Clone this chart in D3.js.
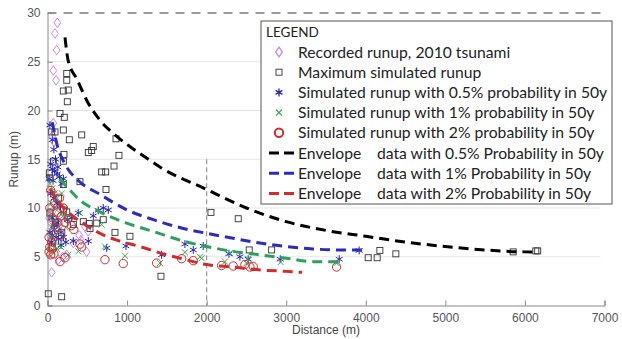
<!DOCTYPE html>
<html>
<head>
<meta charset="utf-8">
<script src="https://cdn.jsdelivr.net/npm/d3@7"></script>
<style>
  html, body { margin: 0; padding: 0; background: #fff; }
  svg { display: block; }
</style>
</head>
<body>
<div id="chart"></div>
<script>
// values: [distance (m), runup (m)]
const recorded = [[124,29.0],[94,27.9],[115,26.2],[73,24.1],[107,23.1],[73,18.7],[60,17.4],[80,16.8],
  [53,3.4],[136,4.7],[241,5.2],[190,5.0],[325,6.4],[492,5.5],[420,6.7],[20,9.0],[40,8.5],[60,9.6],
  [90,8.8],[110,7.8],[30,7.2],[70,6.5],[150,8.2],[200,9.5],[400,7.2],[470,8.1],[510,7.6],[120,10.3],[80,11.5]];

const maxSim = [[10,1.2],[178,0.9],[23,13.6],[31,13.1],[53,17.8],[94,17.8],[157,19.7],[211,19.3],[199,18.0],
  [274,17.0],[242,23.8],[242,23.1],[261,22.1],[199,22.0],[249,20.9],[430,17.5],[513,15.7],[575,16.3],
  [555,15.9],[861,17.1],[898,15.4],[836,14.3],[681,13.7],[731,13.7],[199,14.8],[207,15.5],[73,14.8],
  [408,12.7],[735,11.9],[199,12.4],[199,9.8],[241,9.6],[450,8.6],[525,8.4],[618,8.45],[701,8.8],
  [325,8.3],[534,7.9],[848,7.5],[1036,7.1],[1426,3.0],[2054,9.55],[2397,8.9],[2535,5.7],[2817,5.7],
  [4030,4.9],[4143,4.9],[4177,5.65],[4378,5.3],[5852,5.5],[6137,5.6],[6160,5.6],
  [30,9.5],[100,8.5],[140,11.0],[60,6.0],[180,7.5]];

const sim05 = [[30,18.5],[60,17.0],[80,16.0],[40,14.5],[60,14.0],[90,13.8],[120,13.5],[150,13.2],[20,13.0],
  [70,12.8],[180,12.5],[100,15.0],[130,14.2],[200,13.0],[40,11.5],[80,11.0],[120,10.5],[160,10.2],[60,9.0],
  [30,7.5],[60,7.2],[90,7.8],[110,7.0],[140,6.8],[170,7.5],[200,7.0],[230,6.5],[50,6.5],[80,8.2],[120,8.5],
  [170,6.2],[250,8.8],[300,9.0],[387,9.5],[575,9.2],[638,9.75],[701,10.0],[764,9.8],[325,6.6],[513,6.6],
  [744,5.9],[986,6.1],[1434,5.2],[1727,6.3],[1832,5.7],[1957,6.1],[2280,5.3],[2418,5.0],[2522,4.75],
  [2925,4.75],[3666,4.75],[3917,5.65]];

const sim1 = [[30,12.5],[60,12.0],[90,11.5],[120,11.0],[50,10.5],[80,10.0],[150,9.5],[30,9.0],[100,8.5],
  [60,8.0],[140,7.5],[40,7.0],[90,6.5],[170,6.0],[60,5.5],[120,5.8],[200,9.2],[230,8.0],[180,11.5],[250,9.0],
  [408,9.5],[681,8.3],[387,5.55],[261,5.2],[722,6.05],[974,5.1],[1413,4.35],[1727,5.45],[1916,5.0],
  [1937,4.85],[2230,4.5],[2293,5.4],[2500,4.35],[2520,4.8],[2930,4.45],[3633,4.35]];

const sim2 = [[20,5.5],[40,5.2],[60,5.8],[80,5.3],[30,6.0],[50,6.5],[20,7.0],[100,8.0],[130,8.5],[60,9.0],
  [30,10.0],[90,10.5],[150,11.0],[40,11.8],[120,9.5],[180,9.2],[220,8.5],[260,8.9],[300,8.2],[330,7.8],
  [200,10.0],[160,7.2],[157,4.5],[220,4.9],[408,6.3],[430,6.0],[722,4.7],[952,4.3],[1372,4.35],[1686,4.8],
  [1832,4.6],[2188,4.1],[2334,4.05],[2481,4.2],[2544,3.95],[2585,4.0],[3633,3.95]];

const env05 = [[220,27.5],[258,25.2],[371,23.2],[509,20.8],[660,19.0],[848,17.5],[1036,16.3],[1250,15.1],
  [1413,14.2],[2000,11.9],[2500,10.0],[3000,8.6],[3500,7.7],[4000,7.1],[4500,6.5],[5000,6.05],[5500,5.7],
  [6000,5.5],[6150,5.5]];
const env1 = [[60,18.8],[130,16.2],[220,14.5],[390,12.8],[660,11.4],[1000,9.8],[1330,8.8],[1660,8.0],
  [2000,7.4],[2330,6.9],[2670,6.4],[3000,6.05],[3330,5.8],[3700,5.7],[3950,5.7]];
const env1pct = [[150,13.0],[240,12.2],[408,10.8],[660,9.6],[995,8.45],[1325,7.6],[1665,6.7],[2000,6.05],
  [2330,5.55],[2670,5.2],[3000,4.85],[3335,4.5],[3700,4.5]];
const env2 = [[30,12.0],[150,10.5],[300,9.3],[450,8.4],[660,7.4],[870,6.7],[1160,6.05],[1410,5.4],
  [1665,4.85],[2000,4.2],[2330,3.95],[2670,3.65],[3000,3.5],[3200,3.4]];

const xTicks = [0,1000,2000,3000,4000,5000,6000,7000];
const yTicks = [0,5,10,15,20,25,30];

const legendItems = [
  { label: 'Recorded runup, 2010 tsunami', kind: 'diamond' },
  { label: 'Maximum simulated runup', kind: 'square' },
  { label: 'Simulated runup with 0.5% probability in 50y', kind: 'asterisk' },
  { label: 'Simulated runup with 1% probability in 50y', kind: 'times' },
  { label: 'Simulated runup with 2% probability in 50y', kind: 'circle' },
  { label: 'Envelope', label2: 'data with 0.5% Probability in 50y', kind: 'line', color: '#000' },
  { label: 'Envelope', label2: 'data with 1% Probability in 50y', kind: 'line', color: '#2a2ac4' },
  { label: 'Envelope', label2: 'data with 2% Probability in 50y', kind: 'line', color: '#d42a2a' }
];

const W = 622, H = 339;
const margin = { top: 13, right: 17.5, bottom: 33.5, left: 47.5 };
const width = W - margin.left - margin.right;
const height = H - margin.top - margin.bottom;

const svg = d3.select('#chart').append('svg')
  .attr('width', W).attr('height', H);
const g = svg.append('g').attr('transform', `translate(${margin.left},${margin.top})`);

const x = d3.scaleLinear().domain([0, 7000]).range([0, width]);
const y = d3.scaleLinear().domain([0, 30]).range([height, 0]);

const purple = '#c98ae0', blue = '#2424b8', green = '#3aa655', red = '#cc2e2e';

// grid
g.append('g').selectAll('line').data(yTicks.filter(t => t > 0 && t < 30)).join('line')
  .attr('x1', 0).attr('x2', x(6950)).attr('y1', d => y(d)).attr('y2', d => y(d))
  .attr('stroke', '#e6e6e6').attr('stroke-width', 1);

// 30 m dashed line and 2000 m marker
g.append('line').attr('x1', 0).attr('x2', x(6950)).attr('y1', y(30)).attr('y2', y(30))
  .attr('stroke', '#999').attr('stroke-width', 2).attr('stroke-dasharray', '9,7');
g.append('line').attr('x1', x(2000)).attr('x2', x(2000)).attr('y1', y(15)).attr('y2', y(0))
  .attr('stroke', '#999').attr('stroke-width', 1.2).attr('stroke-dasharray', '5,3');

// axes
const xAxis = g.append('g').attr('transform', `translate(0,${height})`)
  .call(d3.axisBottom(x).tickValues(xTicks).tickFormat(d3.format('d')).tickSize(-5).tickPadding(8));
const yAxis = g.append('g')
  .call(d3.axisLeft(y).tickValues(yTicks).tickFormat(d3.format('d')).tickSize(-5).tickPadding(7));
[xAxis, yAxis].forEach(a => {
  a.select('.domain').attr('stroke', '#888');
  a.selectAll('.tick line').attr('stroke', '#888');
  a.selectAll('.tick text').attr('fill', '#555')
    .style('font-family', 'Liberation Sans, Arial, sans-serif').style('font-size', '12px');
});

svg.append('text').attr('x', margin.left + width / 2).attr('y', 334)
  .attr('text-anchor', 'middle').attr('fill', '#444')
  .style('font-family', 'Liberation Sans, Arial, sans-serif').style('font-size', '12px')
  .text('Distance (m)');
svg.append('text').attr('transform', `translate(18,${margin.top + height / 2}) rotate(-90)`)
  .attr('text-anchor', 'middle').attr('fill', '#444')
  .style('font-family', 'Liberation Sans, Arial, sans-serif').style('font-size', '12px')
  .text('Runup (m)');

// marker helpers
const diamondPath = 'M0,-4.8L3.4,0L0,4.8L-3.4,0Z';
const asteriskPath = d3.symbol().type(d3.symbolAsterisk).size(44)();
const timesPath = d3.symbol().type(d3.symbolTimes).size(26)();

function drawMarker(sel, kind, sw = 1) {
  if (kind === 'diamond') {
    sel.append('path').attr('d', diamondPath).attr('fill', 'none').attr('stroke', purple).attr('stroke-width', sw);
  } else if (kind === 'square') {
    sel.append('rect').attr('x', -3).attr('y', -3).attr('width', 6).attr('height', 6)
      .attr('fill', 'none').attr('stroke', '#333').attr('stroke-width', 0.9);
  } else if (kind === 'asterisk') {
    sel.append('path').attr('d', asteriskPath).attr('fill', 'none').attr('stroke', blue).attr('stroke-width', sw);
  } else if (kind === 'times') {
    sel.append('path').attr('d', timesPath).attr('fill', 'none').attr('stroke', green).attr('stroke-width', sw);
  } else if (kind === 'circle') {
    sel.append('circle').attr('r', 4.2).attr('fill', 'none').attr('stroke', red).attr('stroke-width', sw);
  }
}

const series = [
  { data: recorded, kind: 'diamond' },
  { data: maxSim, kind: 'square' },
  { data: sim05, kind: 'asterisk' },
  { data: sim1, kind: 'times' },
  { data: sim2, kind: 'circle' }
];
series.forEach(s => {
  g.append('g').selectAll('g').data(s.data).join('g')
    .attr('transform', d => `translate(${x(d[0])},${y(d[1])})`)
    .each(function () { drawMarker(d3.select(this), s.kind); });
});

// envelopes
const line = d3.line().x(d => x(d[0])).y(d => y(d[1])).curve(d3.curveMonotoneX);
[[env05, '#000'], [env1, '#2a2ac4'], [env1pct, '#2ea05a'], [env2, '#d42a2a']].forEach(([d, c]) => {
  g.append('path').datum(d).attr('d', line).attr('fill', 'none')
    .attr('stroke', c).attr('stroke-width', 3).attr('stroke-dasharray', '10,6');
});

// legend
const lg = svg.append('g').attr('transform', 'translate(261,21)');
lg.append('rect').attr('width', 351).attr('height', 183)
  .attr('fill', '#fff').attr('stroke', '#555').attr('stroke-width', 1);
const legendFont = 'Lato, "Open Sans", sans-serif';
lg.append('text').attr('x', 5).attr('y', 16).attr('fill', '#222')
  .style('font-family', legendFont).style('font-size', '13.5px').text('LEGEND');
legendItems.forEach((it, i) => {
  const cy = 31 + i * 20.2;
  const row = lg.append('g').attr('transform', `translate(0,${cy})`);
  if (it.kind === 'line') {
    row.append('line').attr('x1', 8).attr('x2', 35).attr('y1', 0).attr('y2', 0)
      .attr('stroke', it.color).attr('stroke-width', 3).attr('stroke-dasharray', '10,5');
  } else {
    const m = row.append('g').attr('transform', 'translate(18,0)');
    drawMarker(m, it.kind, it.kind === 'circle' ? 2 : 1.3);
  }
  const t = row.append('text').attr('y', 5.5).attr('fill', '#222')
    .style('font-family', legendFont).style('font-size', '15.7px');
  t.append('tspan').attr('x', 37).text(it.label);
  if (it.label2) t.append('tspan').attr('x', 116).text(it.label2);
});
</script>
</body>
</html>
